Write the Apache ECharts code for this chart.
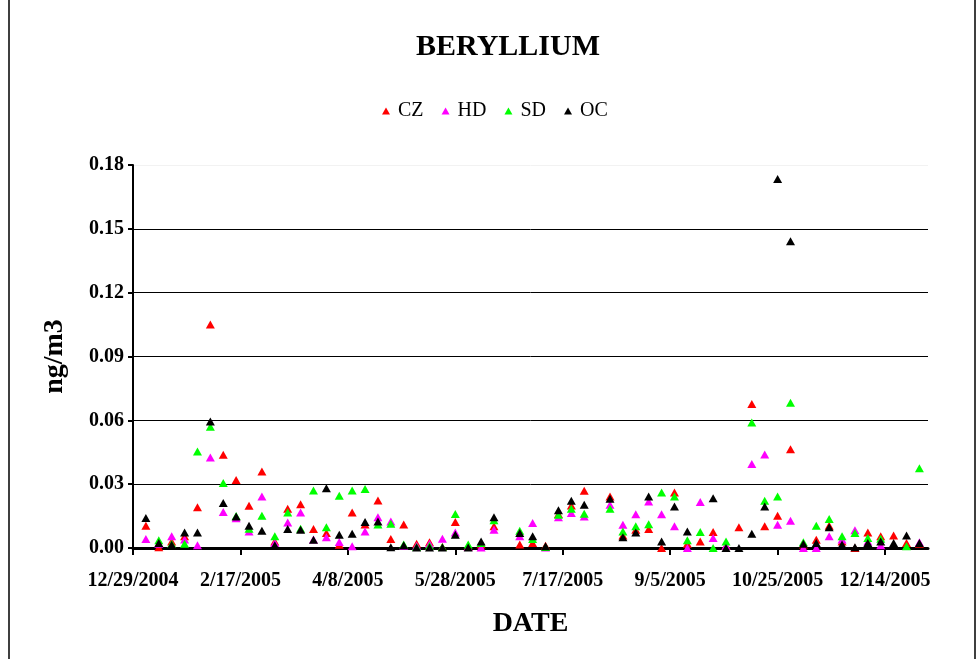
<!DOCTYPE html>
<html>
<head>
<meta charset="utf-8">
<script src="https://cdn.jsdelivr.net/npm/echarts@6/dist/echarts.min.js"></script>
<style>
html,body{margin:0;padding:0;background:#fff;}
#chart{width:979px;height:659px;}
</style>
</head>
<body>
<div id="chart"></div>
<script>
// Sample dates (every 6 days)
const dates = [
 '1/4/2005','1/10/2005','1/16/2005','1/22/2005','1/28/2005','2/3/2005','2/9/2005','2/15/2005','2/21/2005','2/27/2005',
 '3/5/2005','3/11/2005','3/17/2005','3/23/2005','3/29/2005','4/4/2005','4/10/2005','4/16/2005','4/22/2005','4/28/2005',
 '5/4/2005','5/10/2005','5/16/2005','5/22/2005','5/28/2005','6/3/2005','6/9/2005','6/15/2005','6/27/2005','7/3/2005',
 '7/9/2005','7/15/2005','7/21/2005','7/27/2005','8/8/2005','8/14/2005','8/20/2005','8/26/2005','9/1/2005','9/7/2005',
 '9/13/2005','9/19/2005','9/25/2005','10/1/2005','10/7/2005','10/13/2005','10/19/2005','10/25/2005','10/31/2005','11/6/2005',
 '11/12/2005','11/18/2005','11/24/2005','11/30/2005','12/6/2005','12/12/2005','12/18/2005','12/24/2005','12/30/2005'
];
const CZ = [
 0.0105,0.0003,0.003,0.0055,0.0192,0.105,0.0438,0.032,0.0198,0.036,
 0.003,0.0184,0.0206,0.0089,0.007,0.0015,0.0167,0.011,0.0223,0.0042,
 0.011,0.002,0.0027,0.0005,0.0122,0.0005,0.0016,0.0102,0.0016,0.0023,
 0.0011,0.016,0.02,0.0269,0.0242,0.0059,0.0086,0.0089,0.0,0.0261,
 0.002,0.0031,0.0075,0.001,0.0097,0.0677,0.0102,0.0152,0.0464,0.0016,
 0.0039,0.0105,0.003,0.0,0.0073,0.0055,0.0059,0.0023,0.002
];
const HD = [
 0.0042,0.002,0.0055,0.004,0.0013,0.0425,0.0169,0.014,0.0078,0.0242,
 0.0023,0.012,0.0167,0.004,0.005,0.0028,0.0008,0.0078,0.0144,0.0125,
 0.001,0.001,0.002,0.0044,0.0073,0.0005,0.0002,0.0086,0.0055,0.0117,
 0.0002,0.0144,0.0164,0.0148,0.0203,0.0109,0.0159,0.0219,0.0159,0.0102,
 0.0,0.0216,0.0047,0.001,null,0.0395,0.044,0.0109,0.0128,0.0,
 0.0,0.0055,0.004,0.0083,0.003,0.0013,null,null,0.0027
];
const SD = [
 null,0.0036,0.002,0.002,0.0453,0.057,0.0305,0.015,0.009,0.0152,
 0.0055,0.0167,0.009,0.027,0.0097,0.0245,0.027,0.0277,0.011,0.0114,
 0.0016,0.0005,0.0011,0.0005,0.016,0.0016,0.0023,0.013,0.0081,0.0042,
 0.0005,0.0156,0.0184,0.0161,0.0184,0.0078,0.0102,0.0112,0.0261,0.0242,
 0.0036,0.0075,0.0,0.0031,null,0.059,0.0222,0.0242,0.0683,0.0027,
 0.0105,0.0136,0.0055,0.007,0.0047,0.0044,null,0.0008,0.0375
];
const OC = [
 0.0141,0.0023,0.0015,0.0073,0.0073,0.0594,0.0211,0.0148,0.0105,0.0081,
 0.0013,0.0089,0.0086,0.0039,0.0281,0.0062,0.0067,0.0122,0.0125,0.0003,
 0.0013,0.0002,0.0002,0.0002,0.0062,0.0002,0.0031,0.0144,0.007,0.0055,
 0.0008,0.0177,0.0222,0.0203,0.0231,0.005,0.0073,0.0242,0.0031,0.0195,
 0.0078,null,0.0234,0.0,0.0,0.0067,0.0195,0.1734,0.1442,0.002,
 0.0023,0.0098,0.0016,0.0003,0.0023,0.0031,0.0023,0.0059,0.0023
];
const xTickDates = ['12/29/2004','2/17/2005','4/8/2005','5/28/2005','7/17/2005','9/5/2005','10/25/2005','12/14/2005'];
const xMaxDate = '1/3/2006';
const yTicks = [0, 0.03, 0.06, 0.09, 0.12, 0.15, 0.18];

// Excel-style serial day numbers
function toSerial(s){
  const p = s.split('/').map(Number);
  return Math.round(Date.UTC(p[2], p[0]-1, p[1]) / 86400000) + 25569;
}
function fromSerial(n){
  const d = new Date((n - 25569) * 86400000);
  return (d.getUTCMonth()+1) + '/' + d.getUTCDate() + '/' + d.getUTCFullYear();
}
const xs = dates.map(toSerial);
const xTickVals = xTickDates.map(toSerial);
function pairs(arr){ return arr.map((v,i)=> [xs[i], v]).filter(p=>p[1]!==null); }

const FONT = '"Liberation Serif", "Times New Roman", serif';
const chart = echarts.init(document.getElementById('chart'), null, {renderer:'canvas'});
const mk = (name, data, color) => ({
  name, type:'scatter', data: pairs(data), symbol:'triangle', symbolSize:[9,8],
  itemStyle:{color: color, opacity:1}, emphasis:{disabled:true}
});
chart.setOption({
  animation:false,
  backgroundColor:'#fff',
  title:{text:'BERYLLIUM', left:503, top:27, textAlign:'center',
    textStyle:{fontFamily:FONT, fontWeight:'bold', fontSize:30, color:'#000'}},
  legend:{left:382, top:101, padding:0, itemWidth:8, itemHeight:7, itemGap:18, icon:'triangle',
    textStyle:{fontFamily:FONT, fontSize:20, color:'#000', padding:[0,0,0,3]},
    data:['CZ','HD','SD','OC']},
  grid:{left:133, right:51, top:165, bottom:111, containLabel:false, outerBoundsMode:'none'},
  xAxis:{type:'value', min:toSerial(xTickDates[0]), max:toSerial(xMaxDate), interval:50,
    name:'DATE', nameLocation:'middle', nameGap:62,
    nameTextStyle:{fontFamily:FONT, fontWeight:'bold', fontSize:28, color:'#000'},
    axisLine:{show:true, onZero:false, lineStyle:{color:'#000', width:3}},
    axisTick:{show:true, inside:false, length:7, lineStyle:{color:'#000', width:2}, customValues:xTickVals},
    axisLabel:{fontFamily:FONT, fontWeight:'bold', fontSize:20, color:'#000', margin:23,
      customValues:xTickVals, formatter:(v)=>fromSerial(v)},
    splitLine:{show:false}},
  yAxis:{type:'value', min:yTicks[0], max:yTicks[yTicks.length-1], interval:0.03,
    name:'ng/m3', nameLocation:'middle', nameGap:64, nameRotate:90,
    nameTextStyle:{fontFamily:FONT, fontWeight:'bold', fontSize:28, color:'#000'},
    axisLine:{show:true, lineStyle:{color:'#000', width:2}},
    axisTick:{show:true, length:5, lineStyle:{color:'#000', width:2}},
    axisLabel:{fontFamily:FONT, fontWeight:'bold', fontSize:20, color:'#000', margin:9,
      formatter:(v)=>v.toFixed(2)},
    splitLine:{show:true, lineStyle:{color:['#000','#000','#000','#000','#000','#000','#f2f2f2'], width:1}}},
  graphic:[{type:'rect', shape:{x:9, y:-5, width:966, height:670}, style:{fill:null, stroke:'#000', lineWidth:1.5}, silent:true}],
  series:[mk('CZ',CZ,'#ff0000'), mk('HD',HD,'#ff00ff'), mk('SD',SD,'#00ff00'), mk('OC',OC,'#000000')]
});
</script>
</body>
</html>
